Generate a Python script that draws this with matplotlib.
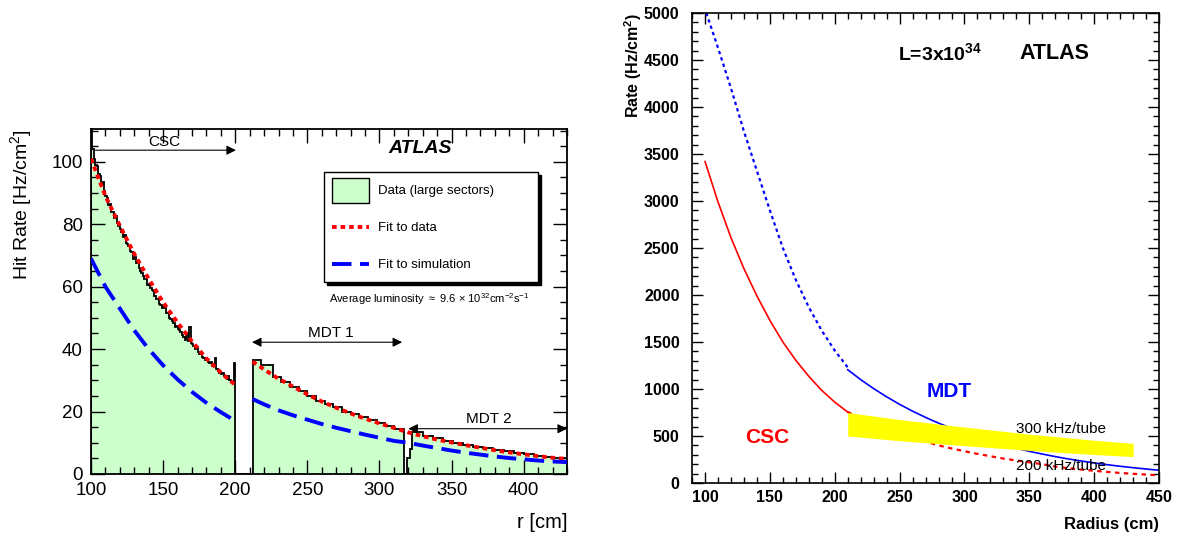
import numpy as np
import matplotlib
matplotlib.use("Agg")
import matplotlib.pyplot as plt
from matplotlib.patches import Rectangle
from matplotlib.lines import Line2D

plt.rcParams['font.family'] = ['Liberation Sans', 'DejaVu Sans']
plt.rcParams['mathtext.default'] = 'regular'

# ---------------- left: measured hit rate vs r ----------------
csc_edges = list(np.arange(100, 201, 1))
csc_rate = [115, 104, 101, 99, 98.5, 96, 95.5, 93, 93.5, 90.5,
            89, 88.5, 86, 86.5, 84, 84, 82, 82.5, 80.5, 79.5,
            78.5, 77.5, 76, 76.5, 74, 73.5, 73, 71.5, 71, 69,
            69.5, 67.5, 68, 66, 65, 64.5, 63.5, 62.5, 62.5, 60.5,
            61, 59.5, 59, 58.5, 57, 56, 56, 54.5, 54, 53,
            53.5, 53, 51.5, 51.5, 50, 49.5, 49, 48.5, 47, 47.5,
            46.5, 46, 45.5, 44.5, 44, 43, 45, 42.5, 47, 42,
            41.5, 41, 40, 40.5, 39, 38.5, 38.5, 37.5, 37, 36.5,
            36.5, 36, 35.5, 36, 34.5, 34.5, 37, 33.5, 33, 32.5,
            32, 32.5, 31.5, 31, 30.5, 31.5, 30, 29.5, 29, 35.5]
mdt1_edges = [212, 218, 226, 232, 238, 244, 250, 256, 262, 268, 274, 280,
              286, 292, 298, 304, 310, 317]
mdt1_rate = [36.5, 35, 31, 29.5, 28, 26.5, 25, 23.5, 22.5, 21.3, 20, 19.2,
             18.2, 17.2, 16.3, 15.4, 14.5]
gap_edges = [317, 319.2, 320.9, 322.4]
gap_rate = [0, 5, 8]
mdt2_edges = [322.4, 330, 337, 344, 351, 358, 365, 372, 379, 386, 393, 400,
              407, 414, 421, 430]
mdt2_rate = [13.3, 12.3, 11.5, 10.7, 10.0, 9.4, 8.8, 8.2, 7.7, 7.2, 6.7, 6.3,
             5.9, 5.5, 5.2]

fit_csc_r = [100, 110, 120, 130, 140, 150, 160, 170, 180, 190, 200]
fit_data_csc = [101, 89, 79.5, 70.5, 62.5, 55, 48.5, 42.5, 37, 32.5, 28.5]
fit_sim_csc = [69, 60, 53, 46, 40, 34.8, 30.3, 26.3, 22.8, 19.8, 17]
fit_mdt_r = [212, 220, 230, 240, 250, 260, 270, 280, 290, 300, 310, 320,
             330, 340, 350, 360, 370, 380, 390, 400, 410, 420, 430]
fit_data_mdt = [36, 33.5, 30.5, 28, 25.5, 23.2, 21.2, 19.4, 17.7, 16.2, 14.8, 13.3,
                12.1, 11.0, 10.1, 9.2, 8.4, 7.6, 6.9, 6.3, 5.7, 5.2, 4.8]
fit_sim_mdt = [24, 22.3, 20.4, 18.8, 17.4, 16, 14.8, 13.7, 12.6, 11.6, 10.6, 10.0,
               9.1, 8.3, 7.5, 6.8, 6.2, 5.6, 5.1, 4.7, 4.3, 4.0, 3.8]

# ---------------- right: expected rate at L=3e34 ----------------
csc_r = [100, 110, 120, 130, 140, 150, 160, 170, 180, 190, 200, 210]
csc_exp = [3420, 2990, 2610, 2280, 1990, 1730, 1500, 1305, 1135, 985, 860, 755]
csc_ext_r = list(range(210, 451, 10))
csc_ext = [755, 690, 630, 575, 525, 480, 440, 400, 368, 338, 310, 285, 260,
           240, 220, 200, 175, 158, 143, 130, 118, 107, 98, 90, 82]
mdt_ext_r = [101, 110, 120, 130, 140, 150, 160, 170, 180, 190, 200, 210]
mdt_ext = [5000, 4630, 4200, 3740, 3320, 2900, 2500, 2160, 1870, 1620, 1410, 1230]
mdt_r = list(range(210, 451, 10))
mdt_exp = [1205, 1100, 1004, 917, 837, 764, 698, 637, 582, 531, 485, 443, 404,
           369, 337, 308, 281, 256, 234, 214, 195, 178, 163, 149, 136]
band_r = [210, 250, 300, 350, 400, 430]
band_300 = [750, 675, 595, 520, 455, 422]
band_200 = [500, 450, 397, 347, 303, 281]

fig = plt.figure(figsize=(11.83, 5.38), dpi=100)
ax = fig.add_axes([0.0769, 0.1190, 0.4024, 0.6413])
ax2 = fig.add_axes([0.5850, 0.1022, 0.3948, 0.8736])

# left histogram
edges = csc_edges + mdt1_edges + gap_edges[1:] + mdt2_edges[1:]
vals = csc_rate + [0] + mdt1_rate + gap_rate + mdt2_rate
ax.stairs(vals, edges, fill=True, color='#ccffcc', zorder=1)
ax.stairs(vals, edges, color='black', lw=1.3, zorder=2)

red_style = dict(color='#ff0000', lw=2.8, ls=(0, (1.2, 1.0)), zorder=3)
blue_style = dict(color='#0000ff', lw=2.8, ls=(0, (5, 2.2)), zorder=3)
ax.plot(fit_csc_r, fit_data_csc, **red_style)
ax.plot(fit_mdt_r, fit_data_mdt, **red_style)
ax.plot(fit_csc_r, fit_sim_csc, **blue_style)
ax.plot(fit_mdt_r, fit_sim_mdt, **blue_style)

ax.set_xlim(100, 430)
ax.set_ylim(0, 110.5)
ax.set_xticks(range(100, 401, 50))
ax.set_xticks(range(100, 431, 10), minor=True)
ax.set_yticks(range(0, 101, 20))
ax.set_yticks(range(0, 111, 5), minor=True)
ax.tick_params(which='both', direction='in', top=True, right=True, labelsize=13.5)
ax.tick_params(which='major', length=10, width=1, pad=6)
ax.tick_params(which='minor', length=5, width=1)
for s in ax.spines.values():
    s.set_linewidth(1.3)

ax.text(-0.147, 1.0, 'Hit Rate [Hz/cm$^2$]', transform=ax.transAxes, rotation=90,
        ha='center', va='top', fontsize=14)
ax.text(1.0, -0.142, 'r [cm]', transform=ax.transAxes, ha='right', va='center', fontsize=14.5)

# region arrows
arr1 = dict(arrowstyle='-|>', color='black', lw=0.8, mutation_scale=14, shrinkA=0, shrinkB=0)
arr2 = dict(arrowstyle='<|-|>', color='black', lw=0.8, mutation_scale=14, shrinkA=0, shrinkB=0)
ax.annotate('', xy=(200.5, 103.7), xytext=(103, 103.7), arrowprops=arr1)
ax.text(151, 106.3, 'CSC', ha='center', va='center', fontsize=11)
ax.annotate('', xy=(315.7, 42.2), xytext=(211.6, 42.2), arrowprops=arr2)
ax.text(266, 45.3, 'MDT 1', ha='center', va='center', fontsize=11)
ax.annotate('', xy=(430, 14.5), xytext=(320, 14.5), arrowprops=arr2)
ax.text(376, 17.6, 'MDT 2', ha='center', va='center', fontsize=11)

ax.text(328.5, 104.4, 'ATLAS', ha='center', va='center', fontsize=14,
        fontweight='bold', fontstyle='italic')

# hand-built legend box with shadow
T = ax.transAxes
bx, by, bw, bh = 0.4895, 0.5565, 0.4496, 0.3188
ax.add_patch(Rectangle((bx + 0.0065, by - 0.009), bw, bh, transform=T,
                       facecolor='black', edgecolor='black', zorder=5))
ax.add_patch(Rectangle((bx, by), bw, bh, transform=T, facecolor='white',
                       edgecolor='black', lw=1.0, zorder=6))
ax.add_patch(Rectangle((0.5063, 0.7855), 0.0777, 0.0725, transform=T,
                       facecolor='#ccffcc', edgecolor='black', lw=1.0, zorder=7))
ax.add_line(Line2D([0.5063, 0.584], [0.716, 0.716], transform=T, **{**red_style, 'zorder': 7}))
ax.add_line(Line2D([0.5063, 0.584], [0.609, 0.609], transform=T, **{**blue_style, 'zorder': 7}))
ax.text(0.603, 0.820, 'Data (large sectors)', transform=T, va='center', fontsize=9.5, zorder=8)
ax.text(0.603, 0.713, 'Fit to data', transform=T, va='center', fontsize=9.5, zorder=8)
ax.text(0.603, 0.606, 'Fit to simulation', transform=T, va='center', fontsize=9.5, zorder=8)
ax.text(0.50, 0.508, r'Average luminosity $\approx$ 9.6 $\times$ 10$^{32}$cm$^{-2}$s$^{-1}$',
        transform=T, va='center', fontsize=8)

# ---------------- right panel ----------------
ax2.fill_between(band_r, band_200, band_300, color='#ffff00', lw=0, zorder=3)
ax2.plot(csc_r, csc_exp, color='#ff0000', lw=1.2, zorder=2)
ax2.plot(csc_ext_r, csc_ext, color='#ff0000', lw=1.6, ls=(0, (2, 2)), zorder=2)
ax2.plot(mdt_ext_r, mdt_ext, color='#0000ff', lw=1.6, ls=(0, (1.5, 1.5)), zorder=2)
ax2.plot(mdt_r, mdt_exp, color='#0000ff', lw=1.2, zorder=2)

ax2.set_xlim(90, 450)
ax2.set_ylim(0, 5000)
ax2.set_xticks(range(100, 451, 50))
ax2.set_xticks(range(90, 451, 10), minor=True)
ax2.set_yticks(range(0, 5001, 500))
ax2.set_yticks(range(0, 5001, 100), minor=True)
ax2.tick_params(which='both', direction='in', top=True, right=True, labelsize=11.5)
ax2.tick_params(which='major', length=8, width=1, pad=5)
ax2.tick_params(which='minor', length=4, width=1)
ax2.tick_params(axis='y', pad=9)
for lab in ax2.get_xticklabels() + ax2.get_yticklabels():
    lab.set_fontweight('bold')
for s in ax2.spines.values():
    s.set_linewidth(1.2)

ax2.text(-0.126, 1.0, 'Rate (Hz/cm$^2$)', transform=ax2.transAxes, rotation=90,
         ha='center', va='top', fontsize=11.5, fontweight='bold')
ax2.text(1.0, -0.089, 'Radius (cm)', transform=ax2.transAxes, ha='right', va='center',
         fontsize=12, fontweight='bold')
ax2.text(248.5, 4574, 'L=3x10$^{34}$', va='center', fontsize=14, fontweight='bold')
ax2.text(342.3, 4574, 'ATLAS', va='center', fontsize=15.5, fontweight='bold')
ax2.text(130.8, 479, 'CSC', va='center', fontsize=15, fontweight='bold', color='#ff0000')
ax2.text(270.5, 971, 'MDT', va='center', fontsize=15, fontweight='bold', color='#0000ff')
ax2.text(340, 574, '300 kHz/tube', va='center', fontsize=11, zorder=4)
ax2.text(340, 186, '200 kHz/tube', va='center', fontsize=11, zorder=4)

fig.savefig('out.png', dpi=100)
